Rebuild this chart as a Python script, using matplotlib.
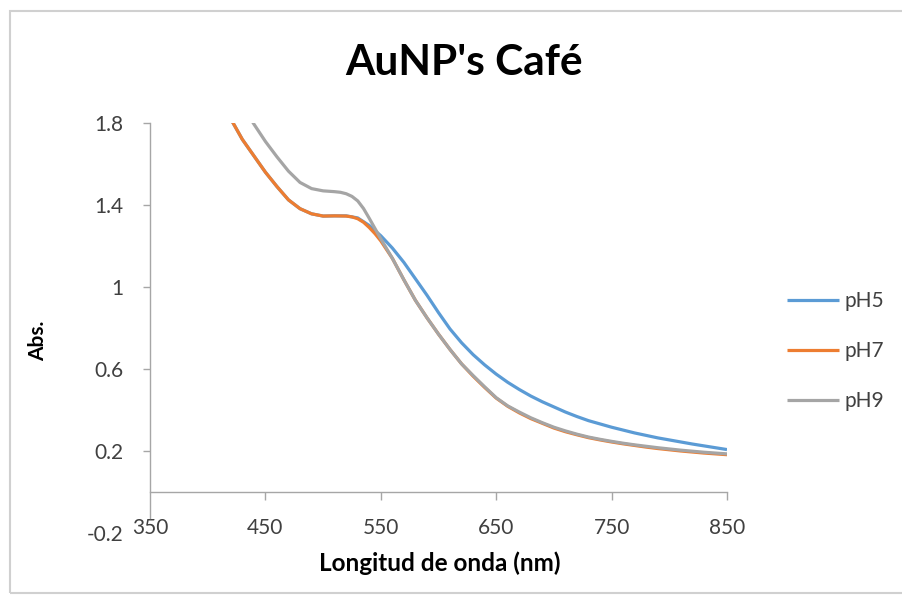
import matplotlib
matplotlib.use("Agg")
import matplotlib.pyplot as plt
from matplotlib.patches import Rectangle

plt.rcParams['font.family'] = ['Lato', 'DejaVu Sans']

# Absorbance spectra of gold nanoparticles synthesised with coffee extract
wl_ph5 = [420, 430, 440, 450, 460, 470, 480, 490, 500, 510, 520, 530, 540, 550,
          560, 570, 580, 590, 600, 610, 620, 630, 640, 650, 660, 670, 680, 690,
          700, 710, 720, 730, 740, 750, 760, 770, 780, 790, 800, 810, 820, 830,
          840, 850]
abs_ph5 = [1.82, 1.72, 1.64, 1.56, 1.49, 1.425, 1.382, 1.357, 1.346, 1.347,
           1.347, 1.337, 1.30, 1.25, 1.19, 1.12, 1.04, 0.96, 0.875, 0.795, 0.728,
           0.67, 0.62, 0.575, 0.535, 0.50, 0.468, 0.44, 0.415, 0.39, 0.368, 0.348,
           0.332, 0.316, 0.302, 0.288, 0.276, 0.264, 0.254, 0.244, 0.234, 0.225,
           0.216, 0.207]

wl_ph7 = [420, 430, 440, 450, 460, 470, 480, 490, 500, 510, 520, 525, 530, 535,
          540, 545, 550, 560, 570, 580, 590, 600, 610, 620, 630, 640, 650, 660,
          670, 680, 690, 700, 710, 720, 730, 740, 750, 760, 770, 780, 790, 800,
          810, 820, 830, 840, 850]
abs_ph7 = [1.82, 1.72, 1.64, 1.56, 1.49, 1.425, 1.382, 1.357, 1.346, 1.347,
           1.346, 1.342, 1.333, 1.316, 1.29, 1.26, 1.225, 1.14, 1.035, 0.935,
           0.85, 0.77, 0.695, 0.625, 0.565, 0.51, 0.458, 0.418, 0.386, 0.358,
           0.335, 0.312, 0.294, 0.279, 0.265, 0.254, 0.244, 0.235, 0.227, 0.219,
           0.212, 0.206, 0.200, 0.195, 0.190, 0.186, 0.182]

wl_ph9 = [435, 440, 450, 460, 470, 480, 490, 500, 510, 515, 520, 525, 530, 535,
          540, 545, 550, 560, 570, 580, 590, 600, 610, 620, 630, 640, 650, 660,
          670, 680, 690, 700, 710, 720, 730, 740, 750, 760, 770, 780, 790, 800,
          810, 820, 830, 840, 850]
abs_ph9 = [1.84, 1.795, 1.71, 1.635, 1.565, 1.51, 1.48, 1.469, 1.465, 1.462,
           1.455, 1.442, 1.42, 1.383, 1.335, 1.285, 1.235, 1.14, 1.035, 0.935,
           0.85, 0.77, 0.695, 0.625, 0.568, 0.513, 0.46, 0.42, 0.39, 0.362, 0.338,
           0.316, 0.298, 0.282, 0.268, 0.257, 0.247, 0.238, 0.230, 0.223, 0.216,
           0.210, 0.204, 0.199, 0.194, 0.190, 0.186]

series_labels = ["pH5", "pH7", "pH9"]
x_ticks = [350, 450, 550, 650, 750, 850]
y_ticks = [-0.2, 0.2, 0.6, 1.0, 1.4, 1.8]
y_tick_labels = ["-0.2", "0.2", "0.6", "1", "1.4", "1.8"]

colors = ["#5B9BD5", "#ED7D31", "#A5A5A5"]
axis_grey = "#A6A6A6"
text_grey = "#404040"

W, H = 902, 603
fig = plt.figure(figsize=(W / 100, H / 100), dpi=100)

# light frame around the chart area
fig.add_artist(Rectangle((10 / W, 1 - 593 / H), (W + 5 - 10) / W, (593 - 11) / H,
                         transform=fig.transFigure, fill=False,
                         edgecolor="#D0D0D0", linewidth=1.5))

ax = fig.add_axes([150 / W, 1 - 533 / H, (727 - 150) / W, (533 - 123) / H])

for wl, ab, lab, c in zip([wl_ph5, wl_ph7, wl_ph9], [abs_ph5, abs_ph7, abs_ph9],
                          series_labels, colors):
    ax.plot(wl, ab, color=c, linewidth=2.3, label=lab,
            solid_joinstyle="round", solid_capstyle="butt")

ax.set_xlim(350, 850)
ax.set_ylim(-0.2, 1.8)

for s in ["top", "right"]:
    ax.spines[s].set_visible(False)
ax.spines["bottom"].set_position(("data", 0))
ax.spines["left"].set_bounds(-0.125, 1.8)
for s in ["bottom", "left"]:
    ax.spines[s].set_color(axis_grey)
    ax.spines[s].set_linewidth(1.0)

ax.set_xticks(x_ticks)
ax.set_xticklabels([str(v) for v in x_ticks])
ax.set_yticks(y_ticks)
ax.set_yticklabels(y_tick_labels)
ax.tick_params(axis="x", direction="out", length=6, width=1.0, color=axis_grey,
               pad=13, labelsize=15, labelcolor=text_grey)
ax.tick_params(axis="y", direction="out", length=5, width=1.0, color=axis_grey,
               pad=14, labelsize=15, labelcolor=text_grey)
ax.yaxis.get_major_ticks()[0].tick1line.set_visible(False)
ax.xaxis.get_major_ticks()[0].tick1line.set_visible(False)

fig.text(464 / W, 1 - 63 / H, "AuNP's Café", ha="center", va="center",
         fontsize=30.5, fontweight="bold", color="black")
fig.text(440 / W, 1 - 563 / H, "Longitud de onda (nm)", ha="center", va="center",
         fontsize=17.5, fontweight="bold", color="black")
fig.text(38 / W, 1 - 341 / H, "Abs.", ha="center", va="center", rotation=90,
         fontsize=15, fontweight="bold", color="black")

leg = fig.legend(loc="center left", bbox_to_anchor=(779 / W, 1 - 351 / H),
                 frameon=False, fontsize=15, handlelength=2.5,
                 handletextpad=0.25, labelspacing=1.45, borderaxespad=0)
for t in leg.get_texts():
    t.set_color(text_grey)

fig.savefig("out.png", dpi=100)
